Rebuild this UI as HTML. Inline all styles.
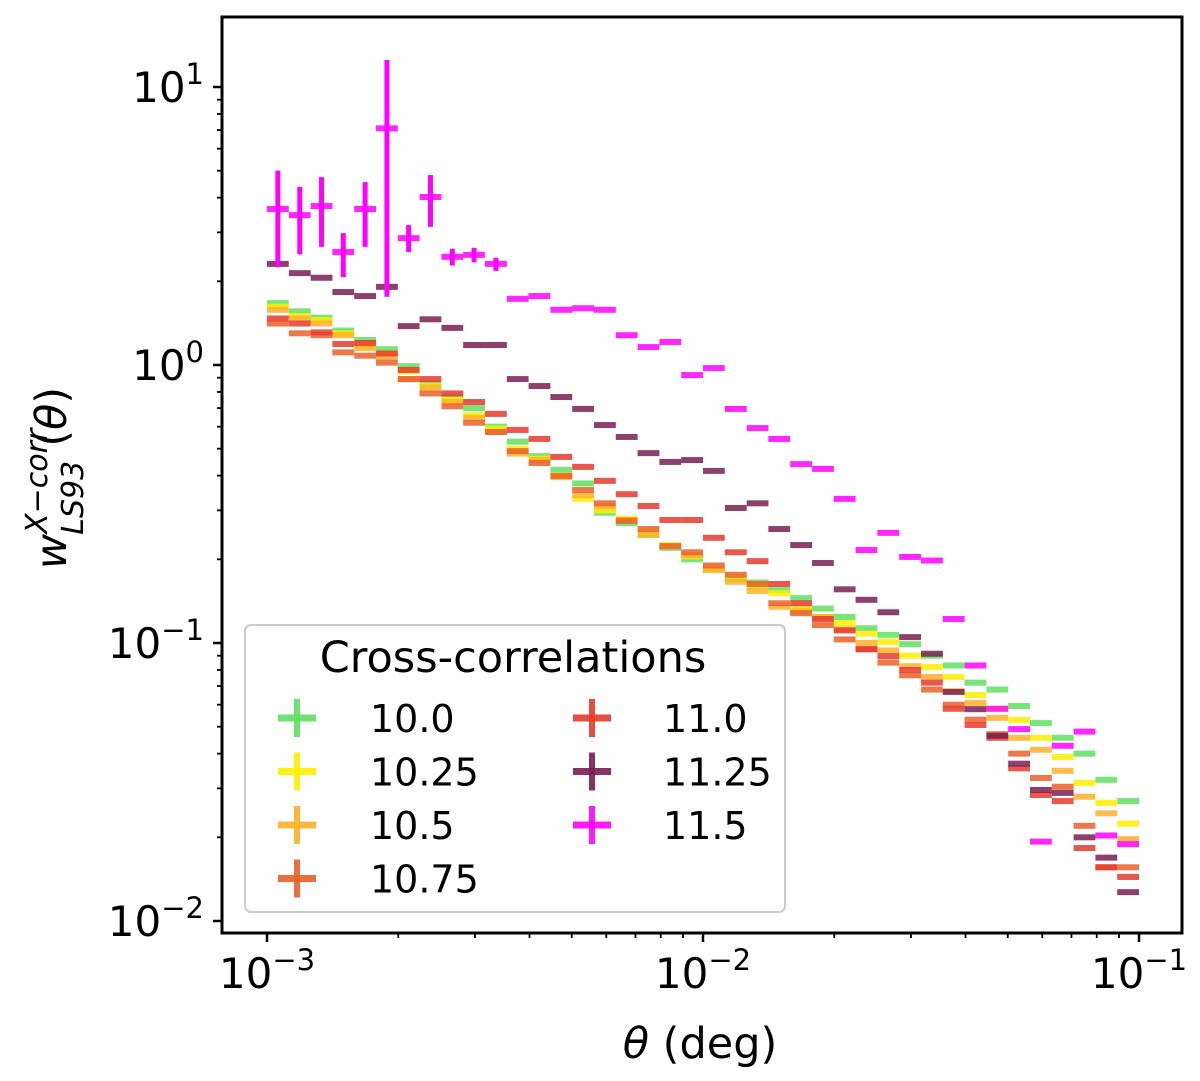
<!DOCTYPE html>
<html><head><meta charset="utf-8">
<style>
html,body{margin:0;padding:0;background:#fff;}
svg{display:block;font-family:"DejaVu Sans","Liberation Sans",sans-serif;}
</style></head>
<body>
<svg id="chart" width="1200" height="1081" viewBox="0 0 1200 1081" xmlns="http://www.w3.org/2000/svg">
<rect x="0" y="0" width="1200" height="1081" fill="#fff"/>
<g id="marks"></g>
<rect x="222" y="17" width="960" height="916" fill="none" stroke="#000" stroke-width="3"/>
<g id="ticks"></g>
<text x="700" y="1058" font-size="43" text-anchor="middle"><tspan font-style="italic">θ</tspan> (deg)</text>
<text transform="translate(66,478) rotate(-90)" font-size="43" text-anchor="middle"><tspan font-style="italic">w</tspan><tspan font-size="30" font-style="italic" dy="-19">X−corr</tspan><tspan font-size="30" font-style="italic" dx="-106" dy="36">LS93</tspan><tspan dy="-17" dx="14">(</tspan><tspan font-style="italic">θ</tspan><tspan>)</tspan></text>
<g>
<rect x="245" y="625" width="540" height="287" rx="6" fill="#fff" fill-opacity="0.85" stroke="#ccc" stroke-width="2"/>
<text x="513" y="672" font-size="43" text-anchor="middle">Cross-correlations</text>
<g id="legend-entries"></g>
</g>
</svg>
<script>
// ---- data ----
const thetaBins = [0.001059,0.001189,0.001334,0.001496,0.001679,0.001884,0.002113,0.002371,0.002661,0.002985,
0.003350,0.003758,0.004217,0.004732,0.005309,0.005957,0.006683,0.007499,0.008414,0.009441,
0.01059,0.01189,0.01334,0.01496,0.01679,0.01884,0.02113,0.02371,0.02661,0.02985,
0.03350,0.03758,0.04217,0.04732,0.05309,0.05957,0.06683,0.07499,0.08414,0.09441];
const seriesLabels = ["10.0","10.25","10.5","10.75","11.0","11.25","11.5"];
const w100 = [1.67,1.56,1.48,1.33,1.23,1.14,0.99,0.86,0.77,0.70,0.60,0.53,0.47,0.42,0.375,0.294,0.27,0.245,0.22,0.20,0.185,0.17,0.165,0.155,0.145,0.133,0.124,0.113,0.107,0.099,0.09,0.083,0.072,0.068,0.0593,0.0515,0.0456,0.04,0.0322,0.027];
const w1025 = [1.62,1.50,1.45,1.30,1.18,1.10,0.95,0.84,0.75,0.66,0.59,0.50,0.46,0.40,0.33,0.30,0.28,0.25,0.225,0.205,0.185,0.172,0.16,0.151,0.133,0.124,0.118,0.108,0.101,0.09,0.082,0.0755,0.065,0.058,0.0529,0.0456,0.0389,0.0314,0.0266,0.0224];
const w105 = [1.58,1.47,1.41,1.28,1.15,1.07,0.89,0.83,0.736,0.645,0.574,0.48,0.455,0.395,0.34,0.31,0.277,0.245,0.223,0.207,0.183,0.166,0.154,0.135,0.13,0.124,0.112,0.1,0.094,0.0825,0.0755,0.067,0.0608,0.0538,0.0456,0.0413,0.0347,0.028,0.0244,0.0197];
const w1075 = [1.41,1.30,1.28,1.11,1.08,1.02,0.89,0.79,0.71,0.62,0.574,0.49,0.444,0.399,0.355,0.318,0.275,0.257,0.223,0.212,0.19,0.176,0.163,0.139,0.128,0.116,0.103,0.095,0.085,0.0765,0.068,0.06,0.053,0.047,0.04,0.0327,0.0304,0.022,0.0156,0.0156];
const w110 = [1.47,1.41,1.31,1.19,1.20,1.10,0.96,0.89,0.79,0.736,0.667,0.584,0.542,0.467,0.43,0.383,0.343,0.311,0.277,0.277,0.239,0.212,0.197,0.163,0.139,0.122,0.111,0.095,0.0897,0.08,0.072,0.058,0.0507,0.0456,0.0354,0.0284,0.027,0.0183,0.0156,0.0144];
const w1125 = [2.31,2.14,2.06,1.83,1.77,1.91,1.38,1.46,1.36,1.18,1.18,0.89,0.84,0.767,0.695,0.608,0.551,0.482,0.448,0.455,0.416,0.306,0.318,0.257,0.225,0.194,0.156,0.143,0.129,0.105,0.0915,0.0667,0.0578,0.0464,0.0368,0.0296,0.0289,0.02,0.0169,0.0127];
const w115 = [3.64,3.46,3.73,2.55,3.64,7.1,2.86,4.02,2.45,2.49,2.31,1.73,1.77,1.58,1.6,1.58,1.28,1.16,1.21,0.92,0.975,0.695,0.593,0.542,0.44,0.423,0.33,0.216,0.249,0.204,0.198,0.122,0.083,0.058,0.049,0.0193,0.0427,0.048,0.0203,0.0189];
const w115ErrHi = [5.0,4.37,4.74,2.98,4.55,12.5,3.19,4.82,2.62,2.64,2.43];
const w115ErrLo = [2.25,2.5,2.66,2.07,2.66,1.76,2.55,3.14,2.28,2.34,2.18];
const yTickLabels = ["-2","-1","0","1"];
const xTickLabels = ["-3","-2","-1"];

// ---- scales ----
const X0=267, XD=436, Y0=365, YD=278;
function xs(v){return X0 + XD*(Math.log10(v)+3);}
function ys(v){return Y0 - YD*Math.log10(v);}
const NS="http://www.w3.org/2000/svg";
function mk(tag,attrs,parent){const e=document.createElementNS(NS,tag);for(const k in attrs)e.setAttribute(k,attrs[k]);parent.appendChild(e);return e;}

const colors=["#5fe05f","#ffee00","#ffb02a","#e8622a","#e63a2e","#7a1e52","#ff00ff"];
const allSeries=[w100,w1025,w105,w1075,w110,w1125,w115];
const marks=document.getElementById('marks');
const half=Math.pow(10,0.025);
allSeries.forEach((ser,si)=>{
  const g=mk('g',{},marks);
  
  
  ser.forEach((v,i)=>{
    const t=thetaBins[i];
    const x1=xs(t/half), x2=xs(t*half), y=ys(v);
    const r=mk('rect',{x:x1,y:y-3,width:x2-x1,height:6,fill:colors[si],'fill-opacity':0.85},g);
    
    
    if(si===6 && i<w115ErrHi.length){
      const xc=xs(t);
      const l=mk('line',{x1:xc,x2:xc,y1:ys(w115ErrHi[i]),y2:ys(w115ErrLo[i]),stroke:colors[si],'stroke-width':5},g);
      
      
    }
  });
});

// ---- ticks ----
const tk=document.getElementById('ticks');
for(let d=-3; d<=-1; d++){
  for(let m=1;m<=9;m++){
    const v=m*Math.pow(10,d); const x=xs(v);
    if(x<222||x>1182)continue;
    mk('line',{x1:x,x2:x,y1:933,y2:933+(m===1?9:5),stroke:'#000','stroke-width':m===1?2.5:1.8},tk);
  }
}
for(let d=-3; d<=1; d++){
  for(let m=1;m<=9;m++){
    const v=m*Math.pow(10,d); const y=ys(v);
    if(y<17||y>933)continue;
    mk('line',{x1:222,x2:222-(m===1?9:5),y1:y,y2:y,stroke:'#000','stroke-width':m===1?2.5:1.8},tk);
  }
}
xTickLabels.forEach(s=>{
  const x=xs(Math.pow(10,+s));
  const t=mk('text',{x:x,y:988,'font-size':42,'text-anchor':'middle'},tk);
  
  
  t.innerHTML='10<tspan font-size="29" dy="-18">−'+s.slice(1)+'</tspan>';
});
yTickLabels.forEach(s=>{
  const y=ys(Math.pow(10,+s));
  const t=mk('text',{x:204,y:y+15,'font-size':42,'text-anchor':'end'},tk);
  
  
  const ex=s.startsWith('-')?'−'+s.slice(1):s;
  t.innerHTML='10<tspan font-size="29" dy="-18">'+ex+'</tspan>';
});

// ---- legend ----
const le=document.getElementById('legend-entries');
seriesLabels.forEach((lab,i)=>{
  const col=i<4?0:1, row=i<4?i:i-4;
  const mx=col===0?297:592, tx=col===0?370:663, y=718+row*53.5;
  const g=mk('g',{},le);
  
  
  mk('rect',{x:mx-19,y:y-3.5,width:38,height:7,fill:colors[i],'fill-opacity':0.9},g);
  mk('rect',{x:mx-3,y:y-19,width:6,height:38,fill:colors[i],'fill-opacity':0.9},g);
  const t=mk('text',{x:tx,y:y+14,'font-size':38},g);
  t.textContent=lab;
});
</script>
</body></html>
